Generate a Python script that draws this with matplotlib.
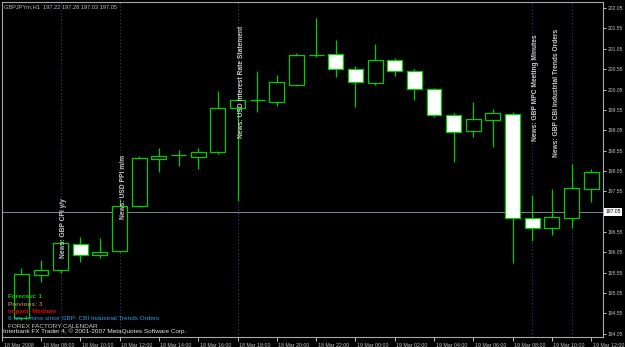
import matplotlib.pyplot as plt
from matplotlib.patches import Rectangle
from matplotlib import transforms
import numpy as np
import pandas as pd

plt.rcParams['font.family'] = ['Liberation Sans', 'DejaVu Sans']

# hourly bars, 18 Mar 2008 07:00 -> 19 Mar 2008 12:00
times = pd.date_range('2008-03-18 07:00', periods=30, freq='h')
opens = [194.43, 195.49, 195.62, 196.25, 195.98, 196.08, 197.19, 198.34, 198.44, 198.39,
         198.52, 199.60, 199.79, 199.75, 200.16, 200.90, 200.92, 200.55, 200.21, 200.78,
         200.51, 200.07, 199.43, 199.03, 199.30, 199.45, 196.89, 196.65, 196.89, 197.61]
highs = [195.66, 195.86, 196.35, 196.43, 196.40, 197.36, 198.42, 198.61, 198.57, 198.61,
         200.01, 199.92, 200.50, 200.41, 200.95, 201.81, 201.27, 200.63, 201.17, 200.83,
         200.55, 200.09, 199.47, 199.75, 199.57, 199.50, 197.46, 197.61, 198.22, 198.10]
lows = [194.38, 195.32, 195.55, 195.81, 195.91, 196.06, 197.16, 198.02, 198.17, 198.10,
        198.47, 197.31, 199.50, 199.65, 200.14, 200.85, 200.36, 199.62, 200.16, 200.38,
        199.79, 199.38, 198.27, 198.88, 198.64, 195.78, 196.33, 196.48, 196.65, 197.29]
closes = [195.51, 195.62, 196.28, 195.98, 196.06, 197.19, 198.37, 198.42, 198.44, 198.52,
          199.60, 199.79, 199.79, 200.24, 200.90, 200.89, 200.55, 200.24, 200.78, 200.51,
          200.07, 199.43, 199.01, 199.33, 199.47, 196.89, 196.65, 196.92, 197.63, 198.02]
bid = 197.05
header = 'GBPJPYm,H1  197.22 197.28 197.03 197.05'

# news events (bar index) and their labels
news_idx = [2, 5, 11, 26, 28]
news_text = ['News: GBP CPI y/y', 'News: USD PPI m/m', 'News: USD Interest Rate Statement',
             'News: GBP MPC Meeting Minutes', 'News: GBP CBI Industrial Trends Orders']

info_lines = ['Forecast: 1', 'Previous: 3', 'Impact: Medium',
              '6 hrs 4 mins since GBP: CBI Industrial Trends Orders',
              'FOREX FACTORY CALENDAR',
              'Interbank FX Trader 4, \u00a9 2001-2007 MetaQuotes Software Corp.']
info_colors = ['#00d000', '#9c7448', '#e00000', '#2a9ee8', '#c8c8c8', '#e8e8e8']

GREEN = '#00cc00'
GREY = '#c0c0c0'

fig = plt.figure(figsize=(6.25, 3.47), dpi=100)
fig.patch.set_facecolor('black')
ax = fig.add_axes([2 / 625, 10 / 347, 601 / 625, 335 / 347])
ax.set_facecolor('black')

# candles
for i in range(len(times)):
    o, h, l, c = opens[i], highs[i], lows[i], closes[i]
    ax.vlines(i, l, h, color=GREEN, lw=0.9, zorder=3)
    fc = 'black' if c >= o else 'white'
    ax.add_patch(Rectangle((i - 0.38, min(o, c)), 0.76, abs(c - o),
                           facecolor=fc, edgecolor=GREEN, lw=0.9, zorder=4))

# news lines
for k in news_idx:
    ax.axvline(k, color='#34348a', lw=0.8, ls=(0, (1, 2)), zorder=1)

text_pos = [(2.15, 195.91), (5.22, 196.87), (11.18, 198.86), (26.19, 198.79), (27.21, 198.39)]
for (tx, ty), s in zip(text_pos, news_text):
    ax.text(tx, ty, s, rotation=90, ha='center', va='bottom', fontsize=4.8,
            color='#c8c8c8', fontweight='bold', zorder=6)

# bid line
ax.axhline(bid, color='#778899', lw=0.7, zorder=2)

ax.set_xlim(-0.985, 29.6)
ax.set_ylim(193.97, 202.20)

# axes / ticks
for sp in ax.spines.values():
    sp.set_color('#a8a8a8')
    sp.set_linewidth(0.8)

xt = [-0.985] + list(range(1, 30, 2))
xl = ['18 Mar 2008'] + [t.strftime('%d Mar %H:%M') for t in times[1::2]]
ax.set_xticks(xt)
ax.set_xticklabels(xl)
ax.tick_params(axis='x', direction='out', length=3, width=0.7, color=GREY,
               labelsize=3.8, labelcolor=GREY, pad=1.5)
off = transforms.ScaledTranslation(1.5 / 100, 0, fig.dpi_scale_trans)
for lbl in ax.get_xticklabels():
    lbl.set_horizontalalignment('left')
    lbl.set_transform(lbl.get_transform() + off)

ax.yaxis.tick_right()
yt = np.arange(194.05, 202.1, 0.5)
ax.set_yticks(yt)
ax.set_yticklabels(['%.2f' % v for v in yt])
ax.tick_params(axis='y', direction='out', length=2.5, width=0.7, color=GREY,
               labelsize=3.6, labelcolor=GREY, pad=0.8)

# bid price label on the axis
ax.text(1.004, bid, '%.2f' % bid, transform=transforms.blended_transform_factory(ax.transAxes, ax.transData),
        ha='left', va='center', fontsize=3.6, color='black', clip_on=False,
        bbox=dict(facecolor='white', edgecolor='none', pad=1.0))
for lbl in ax.get_yticklabels():
    if lbl.get_text() == '%.2f' % bid:
        lbl.set_visible(False)

# header and info block
fig.text(4 / 625, 1 - 6.5 / 347, header, fontsize=4.1, color=GREY, va='center', ha='left')
info_y = [297, 304, 311, 318.7, 326, 331.5]
info_x = [8, 8, 8, 8, 8, 3]
for s, col, yy, xx in zip(info_lines, info_colors, info_y, info_x):
    fig.text(xx / 625, 1 - yy / 347, s, fontsize=4.6, color=col, va='center', ha='left',
             fontweight='bold' if col in ('#00d000', '#9c7448', '#e00000') else 'normal')

fig.savefig('out.png', dpi=100, facecolor='black')
